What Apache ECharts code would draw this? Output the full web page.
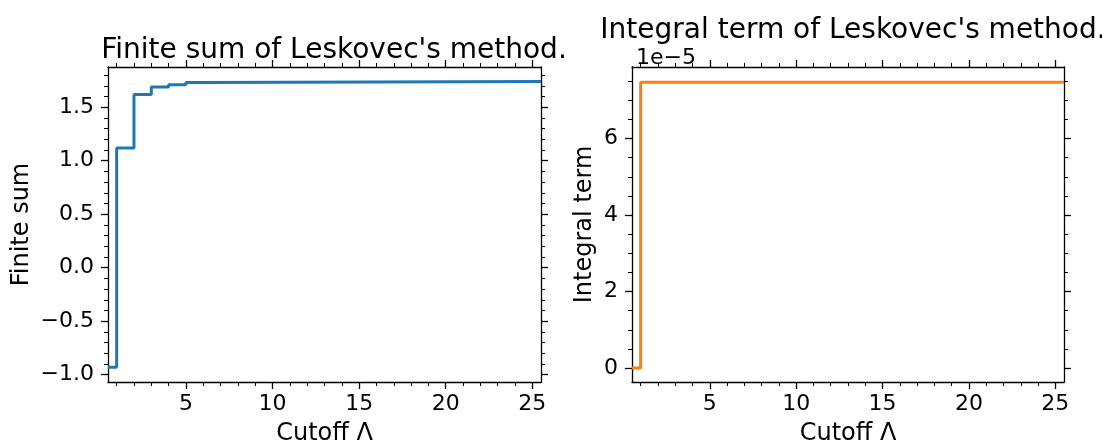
<!DOCTYPE html>
<html>
<head>
<meta charset="utf-8">
<script src="https://cdn.jsdelivr.net/npm/echarts@6/dist/echarts.min.js"></script>
<style>
  html, body { margin: 0; padding: 0; background: #fff; }
  #chart { width: 1102px; height: 446px; }
</style>
</head>
<body>
<div id="chart"></div>
<script>
// step points: value holds from its cutoff until the next one
const finiteCutoffs = [0.5, 1, 2, 3, 4, 5, 6, 25.5];
const finiteSum = [-0.93, 1.12, 1.62, 1.69, 1.71, 1.73, 1.74, 1.74];
const integralCutoffs = [0.5, 1, 25.5];
const integralTerm = [0, 7.47, 7.47]; // in units of 1e-5

// ticks
const cutoffMajor = [5, 10, 15, 20, 25];
const cutoffMinor = [1, 2, 3, 4, 6, 7, 8, 9, 11, 12, 13, 14, 16, 17, 18, 19, 21, 22, 23, 24];
const sumMajor = [-1.0, -0.5, 0.0, 0.5, 1.0, 1.5];
const sumMinor = [-0.9, -0.8, -0.7, -0.6, -0.4, -0.3, -0.2, -0.1, 0.1, 0.2, 0.3, 0.4,
                  0.6, 0.7, 0.8, 0.9, 1.1, 1.2, 1.3, 1.4, 1.6, 1.7, 1.8];
const integralMajor = [0, 2, 4, 6];
const integralMinor = [0.5, 1, 1.5, 2.5, 3, 3.5, 4.5, 5, 5.5, 6.5, 7, 7.5];

const FONT = 'DejaVu Sans';
const BLACK = '#000';
const TICK_SIZE = 22;
const NAME_SIZE = 24;
const TITLE_SIZE = 28;

// one spine with its ticks; minor axes share the spot but draw only short ticks
function makeAxis(kind, grid, pos, min, max, ticks, major, labelFmt) {
    const ax = {
        type: 'value', gridIndex: grid, position: pos, min: min, max: max,
        splitLine: { show: false },
        axisLine: { show: major, onZero: false, lineStyle: { color: BLACK, width: 1.3 } },
        axisTick: { show: true, inside: false, length: major ? 7 : 4, customValues: ticks,
                    lineStyle: { color: BLACK, width: major ? 1.3 : 1 } },
        axisLabel: { show: false }
    };
    if (labelFmt) {
        ax.axisLabel = { show: true, customValues: ticks, formatter: labelFmt, color: BLACK,
                         fontFamily: FONT, fontSize: TICK_SIZE, margin: kind === 'x' ? 11 : 14 };
    }
    return ax;
}

function withName(ax, name, gap) {
    ax.name = name;
    ax.nameLocation = 'middle';
    ax.nameGap = gap;
    ax.nameTextStyle = { fontFamily: FONT, fontSize: NAME_SIZE, color: BLACK };
    return ax;
}

const fmtSum = v => v.toFixed(1).replace('-', '\u2212');
const fmtInt = v => String(v);

const xAxes = [];
const yAxes = [];
[0, 1].forEach(g => {
    xAxes.push(withName(makeAxis('x', g, 'bottom', 0.5, 25.5, cutoffMajor, true, fmtInt), 'Cutoff \u039b', 40));
    xAxes.push(makeAxis('x', g, 'bottom', 0.5, 25.5, cutoffMinor, false));
    xAxes.push(makeAxis('x', g, 'top', 0.5, 25.5, cutoffMajor, true));
    xAxes.push(makeAxis('x', g, 'top', 0.5, 25.5, cutoffMinor, false));
});

const ySpecs = [
    { min: -1.068, max: 1.876, major: sumMajor, minor: sumMinor, fmt: fmtSum, name: 'Finite sum', gap: 74 },
    { min: -0.366, max: 7.87, major: integralMajor, minor: integralMinor, fmt: fmtInt, name: 'Integral term', gap: 35 }
];
ySpecs.forEach((s, g) => {
    yAxes.push(withName(makeAxis('y', g, 'left', s.min, s.max, s.major, true, s.fmt), s.name, s.gap));
    yAxes.push(makeAxis('y', g, 'left', s.min, s.max, s.minor, false));
    yAxes.push(makeAxis('y', g, 'right', s.min, s.max, s.major, true));
    yAxes.push(makeAxis('y', g, 'right', s.min, s.max, s.minor, false));
});

const chart = echarts.init(document.getElementById('chart'), null, { renderer: 'canvas' });
chart.setOption({
    backgroundColor: '#fff',
    animation: false,
    title: [
        { text: "Finite sum of Leskovec's method.", left: 329, top: 32, textAlign: 'center',
          textStyle: { fontFamily: FONT, fontSize: TITLE_SIZE, fontWeight: 'normal', color: BLACK } },
        { text: "Integral term of Leskovec's method.", left: 848, top: 12, textAlign: 'center',
          textStyle: { fontFamily: FONT, fontSize: TITLE_SIZE, fontWeight: 'normal', color: BLACK } },
        { text: '1e\u22125', left: 631, top: 42,
          textStyle: { fontFamily: FONT, fontSize: TICK_SIZE, fontWeight: 'normal', color: BLACK } }
    ],
    grid: [
        { left: 108, top: 67, width: 433, height: 315, outerBoundsMode: 'none' },
        { left: 632, top: 67, width: 432, height: 315, outerBoundsMode: 'none' }
    ],
    xAxis: xAxes,
    yAxis: yAxes,
    series: [
        {
            type: 'line', xAxisIndex: 0, yAxisIndex: 0, step: 'end', showSymbol: false,
            data: finiteCutoffs.map((x, i) => [x, finiteSum[i]]),
            lineStyle: { color: '#1f77b4', width: 3 }, itemStyle: { color: '#1f77b4' }
        },
        {
            type: 'line', xAxisIndex: 4, yAxisIndex: 4, step: 'end', showSymbol: false,
            data: integralCutoffs.map((x, i) => [x, integralTerm[i]]),
            lineStyle: { color: '#ff7f0e', width: 3 }, itemStyle: { color: '#ff7f0e' }
        }
    ]
});
</script>
</body>
</html>
